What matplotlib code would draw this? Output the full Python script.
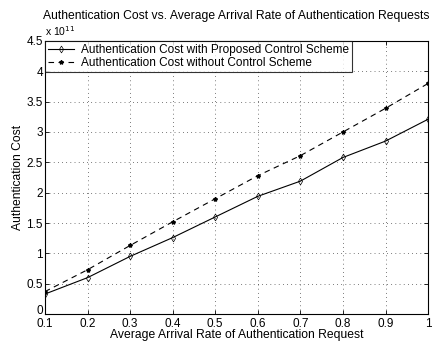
import numpy as np
import matplotlib.pyplot as plt
from matplotlib.ticker import FuncFormatter

plt.rcParams['font.family'] = ['Liberation Sans', 'DejaVu Sans']

# arrival rate and authentication cost (units of 1e11)
rate = [0.1, 0.2, 0.3, 0.4, 0.5, 0.6, 0.7, 0.8, 0.9, 1.0]
cost_with = [0.33, 0.60, 0.95, 1.26, 1.60, 1.94, 2.19, 2.58, 2.85, 3.21]
cost_without = [0.37, 0.73, 1.13, 1.52, 1.90, 2.28, 2.61, 3.00, 3.39, 3.80]
scale = 1e11

fig = plt.figure(figsize=(4.32, 3.44), dpi=100)
ax = fig.add_axes([0.104, 0.087, 0.887, 0.794])

ax.plot(rate, np.array(cost_with) * scale, 'k-', lw=0.8, marker='d',
        ms=3.5, mfc='none', mew=0.5,
        label='Authentication Cost with Proposed Control Scheme')
ax.plot(rate, np.array(cost_without) * scale, 'k--', lw=0.8, marker='*',
        ms=3, dashes=(5, 4),
        label='Authentication Cost without Control Scheme')

ax.set_xlim(0.1, 1.0)
ax.set_ylim(0, 4.5 * scale)
ax.set_xticks(rate)
ax.set_yticks(np.arange(0, 4.51, 0.5) * scale)
ax.xaxis.set_major_formatter(FuncFormatter(lambda v, p: f'{v:g}'))
ax.yaxis.set_major_formatter(FuncFormatter(lambda v, p: f'{v / scale:g}'))
ax.tick_params(direction='in', labelsize=8.5, length=3, width=0.6,
               top=True, right=True, pad=1.5)
ax.tick_params(axis='x', pad=3)
# keep the "0" label sitting on the x axis line, clear of "0.1"
ax.yaxis.get_major_ticks()[0].label1.set_va('baseline')
ax.grid(True, color='k', ls=(0, (1, 5)), lw=0.5)
for s in ax.spines.values():
    s.set_linewidth(0.8)

ax.text(0.0, 1.012, 'x 10$^{11}$', transform=ax.transAxes, fontsize=7.5,
        va='bottom', ha='left')
ax.set_title('Authentication Cost vs. Average Arrival Rate of Authentication Requests',
             fontsize=8.7, pad=16)
ax.set_xlabel('Average Arrival Rate of Authentication Request', fontsize=8.7,
              labelpad=-1)
ax.set_ylabel('Authentication Cost', fontsize=8.7, labelpad=2)

leg = ax.legend(loc='upper left', fontsize=8.5, frameon=True, fancybox=False,
                borderaxespad=0, handlelength=2.2, borderpad=0.25,
                labelspacing=0.1, handletextpad=0.6)
leg.get_frame().set_edgecolor('k')
leg.get_frame().set_linewidth(0.8)

fig.savefig('out.png', dpi=100)
